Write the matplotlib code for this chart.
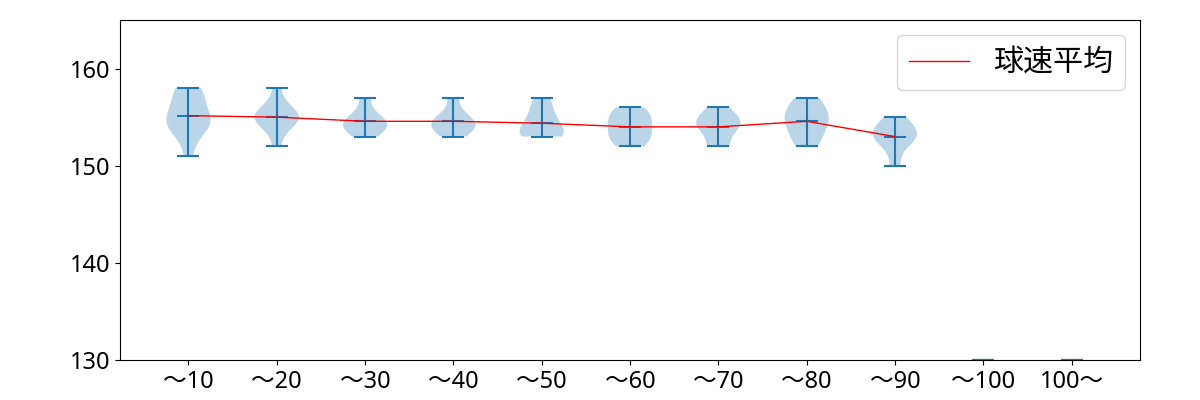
import matplotlib
matplotlib.use("Agg")
import matplotlib.pyplot as plt
import numpy as np

plt.rcParams['font.family'] = ['Noto Sans', 'Noto Sans CJK JP', 'DejaVu Sans']

# pitch count buckets
labels = ["～10", "～20", "～30", "～40", "～50", "～60", "～70", "～80", "～90", "～100", "100～"]

# pitch speeds (km/h) per bucket
speeds_10 = [151, 153, 154, 154, 154, 155, 155, 155, 156, 157, 157, 158, 158]
speeds_20 = [152, 154, 154, 155, 155, 155, 155, 156, 156, 158]
speeds_30 = [153, 154, 154, 154, 155, 155, 157]
speeds_40 = [153, 154, 154, 154, 155, 155, 157]
speeds_50 = [153, 153, 153, 154, 154, 155, 156, 157]
speeds_60 = [152, 153, 153, 154, 155, 155, 156]
speeds_70 = [152, 152, 154, 154, 154, 155, 155, 156]
speeds_80 = [152, 153, 154, 155, 155, 156, 157]
speeds_90 = [150, 152, 153, 153, 153, 154, 154, 155]
speeds_100 = [130]
speeds_over = [130]

data = [speeds_10, speeds_20, speeds_30, speeds_40, speeds_50, speeds_60,
        speeds_70, speeds_80, speeds_90, speeds_100, speeds_over]
positions = np.arange(1, len(labels) + 1)

fig, ax = plt.subplots(figsize=(12, 4), dpi=100)
fig.subplots_adjust(left=0.1, right=0.95, top=0.95, bottom=0.1)

ax.violinplot(data, positions=positions, showmeans=True)

# mean line only where there were pitches
n_real = 9
means = [np.mean(d) for d in data[:n_real]]
ax.plot(positions[:n_real], means, color='red', linewidth=1, label='球速平均')

ax.set_ylim(130, 165)
ax.set_yticks([130, 140, 150, 160])
ax.set_xticks(positions)
ax.set_xticklabels(labels)
ax.tick_params(labelsize=17)
ax.legend(loc='upper right', prop={'family': ['Noto Sans CJK JP'], 'size': 21.6})

fig.savefig("out.png")
